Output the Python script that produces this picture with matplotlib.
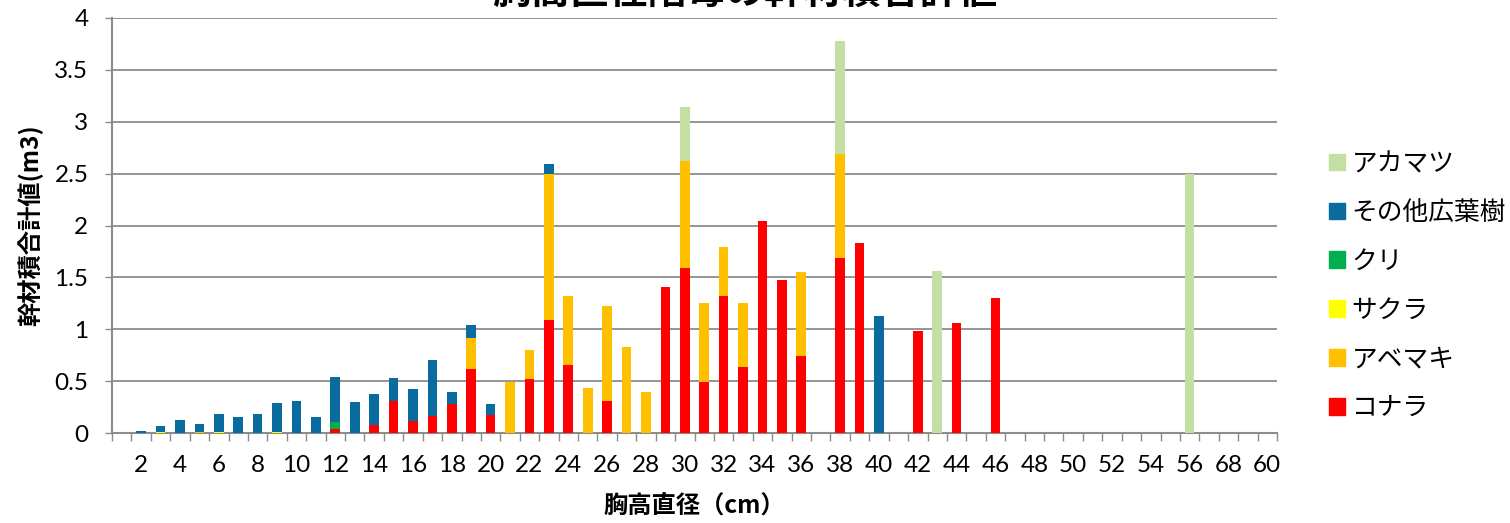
import numpy as np
import matplotlib
matplotlib.use("Agg")
import matplotlib.pyplot as plt
from matplotlib.patches import Patch

plt.rcParams['font.family'] = ['Lato', 'Noto Sans CJK JP', 'DejaVu Sans']
JP = ['Noto Sans CJK JP', 'DejaVu Sans']

# 胸高直径階 (cm), 1..60
diameters = list(range(1, 61))
tick_text = ['', '2', '', '4', '', '6', '', '8', '', '10',
             '', '12', '', '14', '', '16', '', '18', '', '20',
             '', '22', '', '24', '', '26', '', '28', '', '30',
             '', '32', '', '34', '', '36', '', '38', '', '40',
             '', '42', '', '44', '', '46', '', '48', '', '50',
             '', '52', '', '54', '', '56', '', '68', '', '60']

# 幹材積 (m3) per species, one value per diameter class
konara = [0, 0, 0, 0, 0, 0, 0, 0, 0, 0,
          0, 0.035, 0, 0.077, 0.31, 0.113, 0.166, 0.281, 0.614, 0.171,
          0, 0.523, 1.085, 0.655, 0, 0.308, 0, 0, 1.412, 1.589,
          0.494, 1.323, 0.632, 2.039, 1.477, 0.738, 0, 1.688, 1.835, 0,
          0, 0.981, 0, 1.064, 0, 1.301, 0, 0, 0, 0,
          0, 0, 0, 0, 0, 0, 0, 0, 0, 0]
abemaki = [0, 0, 0, 0, 0.005, 0, 0, 0, 0, 0,
           0, 0, 0, 0, 0, 0, 0, 0, 0.306, 0,
           0.494, 0.28, 1.413, 0.668, 0.437, 0.912, 0.831, 0.392, 0, 1.037,
           0.761, 0.465, 0.617, 0, 0, 0.812, 0, 1.0, 0, 0,
           0, 0, 0, 0, 0, 0, 0, 0, 0, 0,
           0, 0, 0, 0, 0, 0, 0, 0, 0, 0]
sakura = [0, 0, 0.005, 0, 0, 0.005, 0, 0, 0.012, 0] + [0] * 50
kuri = [0] * 11 + [0.068] + [0] * 48
sonota = [0.004, 0.015, 0.058, 0.127, 0.085, 0.182, 0.158, 0.187, 0.281, 0.312,
          0.155, 0.434, 0.296, 0.298, 0.218, 0.308, 0.535, 0.111, 0.125, 0.105,
          0, 0, 0.096, 0, 0, 0, 0, 0, 0, 0,
          0, 0, 0, 0, 0, 0, 0, 0, 0, 1.132,
          0, 0, 0, 0, 0, 0, 0, 0, 0, 0,
          0, 0, 0, 0, 0, 0, 0, 0, 0, 0]
akamatsu = [0] * 29 + [0.514] + [0] * 7 + [1.088] + [0] * 4 + [1.561] \
    + [0] * 12 + [2.5] + [0] * 4

series = [
    ('コナラ', konara, '#FF0000'),
    ('アベマキ', abemaki, '#FFC000'),
    ('サクラ', sakura, '#FFFF00'),
    ('クリ', kuri, '#00B050'),
    ('その他広葉樹', sonota, '#0A6C9E'),
    ('アカマツ', akamatsu, '#C4DFA3'),
]

fig = plt.figure(figsize=(15.1, 5.23), dpi=100)
ax = fig.add_axes([112 / 1510, 1 - 433 / 523, 1165 / 1510, 415 / 523])

x = np.arange(len(diameters))
bottom = np.zeros(len(diameters))
for name, vals, color in series:
    vals = np.array(vals)
    ax.bar(x, vals, width=0.5, bottom=bottom, color=color, label=name,
           zorder=3, linewidth=0)
    bottom += vals

grid_c = '#8C8C8C'
ax.set_ylim(0, 4)
ax.set_xlim(-0.5, len(diameters) - 0.5)
ax.set_yticks(np.arange(0, 4.01, 0.5))
ax.set_yticklabels(['0', '0.5', '1', '1.5', '2', '2.5', '3', '3.5', '4'])
ax.yaxis.grid(True, color=grid_c, linewidth=1.3, zorder=0)
ax.set_xticks(x)
ax.set_xticklabels(tick_text)
ax.set_xticks(np.arange(-0.5, len(diameters), 1.0), minor=True)

ax.tick_params(axis='y', length=5, width=1, color=grid_c, pad=12,
               labelsize=17.5)
ax.tick_params(axis='x', which='major', length=0, pad=16, labelsize=17.5)
ax.tick_params(axis='x', which='minor', length=6, width=1, color=grid_c)

for side in ['top', 'right']:
    ax.spines[side].set_visible(False)
for side in ['left', 'bottom']:
    ax.spines[side].set_color(grid_c)
    ax.spines[side].set_linewidth(1.5)

fig.text(745 / 1510, 1 - 4 / 523, '胸高直径階毎の幹材積合計値', family=JP,
         fontsize=28, fontweight='bold', ha='center', va='baseline')
fig.text(30 / 1510, 1 - 225 / 523, '幹材積合計値(m3)', family=JP,
         fontsize=17.5, fontweight='bold', rotation=90, ha='center',
         va='center')
fig.text(694 / 1510, 1 - 507 / 523, '胸高直径（cm）', family=JP,
         fontsize=17.5, fontweight='bold', ha='center', va='center')

handles = [Patch(color=c, label=n) for n, _, c in series][::-1]
fig.legend(handles=handles, loc='upper left',
           bbox_to_anchor=(1306 / 1510, 1 - 128 / 523), frameon=False,
           prop={'family': JP, 'size': 18.5}, handlelength=0.62,
           handleheight=0.62, handletextpad=0.25, labelspacing=0.89)

fig.savefig('out.png', dpi=100)
